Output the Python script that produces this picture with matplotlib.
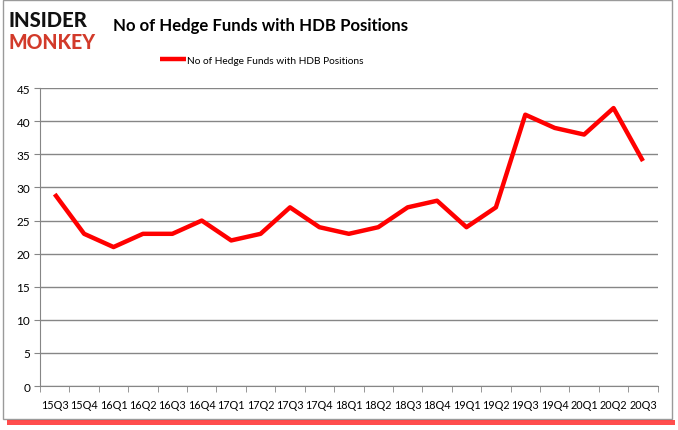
import matplotlib.pyplot as plt
from matplotlib.patches import Rectangle
import numpy as np

quarters = ["15Q3", "15Q4", "16Q1", "16Q2", "16Q3", "16Q4", "17Q1", "17Q2", "17Q3",
            "17Q4", "18Q1", "18Q2", "18Q3", "18Q4", "19Q1", "19Q2", "19Q3", "19Q4",
            "20Q1", "20Q2", "20Q3"]
funds = [29, 23, 21, 23, 23, 25, 22, 23, 27, 24, 23, 24, 27, 28, 24, 27, 41, 39, 38, 42, 34]
yticks = [0, 5, 10, 15, 20, 25, 30, 35, 40, 45]

fig = plt.figure(figsize=(6.78, 4.31), dpi=100)
ax = fig.add_axes([0.059, 0.102, 0.911, 0.691])
renderer = fig.canvas.get_renderer()


def fit_width(txt, width_px):
    # shrink/grow a text so that it spans the given pixel width
    w = txt.get_window_extent(renderer).width
    txt.set_fontsize(txt.get_fontsize() * width_px / w)


x = np.arange(len(quarters))
line, = ax.plot(x, funds, color="#ff0000", lw=3.2, solid_capstyle="butt",
                label="No of Hedge Funds with HDB Positions")

ax.set_xlim(-0.5, len(quarters) - 0.5)
ax.set_ylim(0, 45)
ax.set_yticks(yticks)
ax.yaxis.grid(True, color="#868686", lw=1)
ax.set_axisbelow(True)
ax.set_xticks(x)
ax.set_xticklabels(quarters, fontsize=7.8, family="Lato")
ax.set_xticks(np.arange(len(quarters) + 1) - 0.5, minor=True)
ax.tick_params(axis="x", which="major", length=0, pad=9)
ax.tick_params(axis="x", which="minor", length=4, color="#868686")
ax.tick_params(axis="y", length=4, color="#868686", labelsize=8.5, pad=3)
for lab in ax.get_yticklabels():
    lab.set_family("Lato")
for s in ["top", "right"]:
    ax.spines[s].set_visible(False)
for s in ["left", "bottom"]:
    ax.spines[s].set_color("#868686")

title = fig.text(0.385, 0.94, "No of Hedge Funds with HDB Positions", ha="center",
                 va="center", fontsize=14, fontweight="bold", family="Lato")
fit_width(title, 298)

leg = fig.legend(handles=[line], loc="center", bbox_to_anchor=(0.386, 0.858),
                 frameon=False, prop={"family": "Lato", "size": 7.3},
                 handlelength=2.6, handletextpad=0.15)

# logo
ins = fig.text(0.012, 0.953, "INSIDER", fontsize=17, fontweight="black", color="#111111",
               family="Lato", va="center", ha="left")
fit_width(ins, 79)
mon = fig.text(0.012, 0.902, "MONKEY", fontsize=17, fontweight="black", color="#d23a2a",
               family="Lato", va="center", ha="left")
fit_width(mon, 87)

# frame with red shadow
fig.patches.append(Rectangle((0.004, 0.025), 0.987, 0.972, transform=fig.transFigure,
                             fill=False, edgecolor="#9a9a9a", lw=1))
fig.patches.append(Rectangle((0.01, 0.012), 0.985, 0.012, transform=fig.transFigure,
                             facecolor="#ff2020", edgecolor="none", alpha=0.8))

fig.savefig("out.png", dpi=100)
